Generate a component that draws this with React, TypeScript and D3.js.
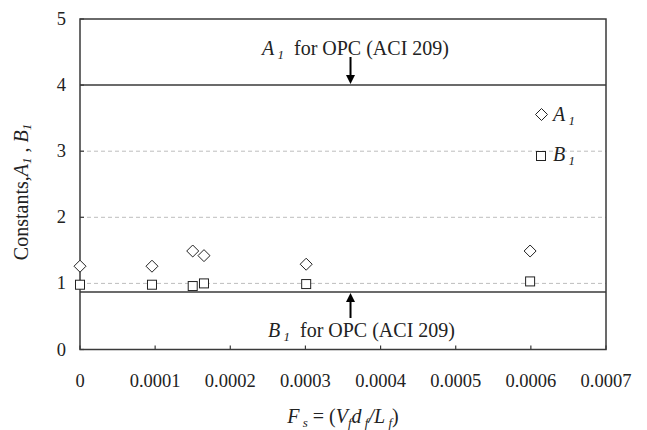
import React from "react";
import * as d3 from "d3";

const xA1: number[] = [0, 0.0000958, 0.00015, 0.000165, 0.000301, 0.000599];
const yA1: number[] = [1.26, 1.26, 1.49, 1.42, 1.29, 1.49];
const xB1: number[] = [0, 0.0000958, 0.00015, 0.000165, 0.000301, 0.000599];
const yB1: number[] = [0.98, 0.98, 0.96, 1.0, 0.99, 1.03];
const xTicks: number[] = [0, 0.0001, 0.0002, 0.0003, 0.0004, 0.0005, 0.0006, 0.0007];
const xTickLabels: string[] = ["0", "0.0001", "0.0002", "0.0003", "0.0004", "0.0005", "0.0006", "0.0007"];
const yTicks: number[] = [0, 1, 2, 3, 4, 5];
const gridValues: number[] = [1, 2, 3];
const A1_OPC = 4;
const B1_OPC = 0.87;
const annotX = 0.00036;

const W = 647, H = 430;
const M = { left: 80, right: 41, top: 19, bottom: 80.5 };
const FONT = "'Liberation Serif', 'Times New Roman', serif";

export default function App() {
  const x = d3.scaleLinear().domain([0, 0.0007]).range([M.left, W - M.right]);
  const y = d3.scaleLinear().domain([0, 5]).range([H - M.bottom, M.top]);
  const axisColor = "#3a3a3a";
  const diamond = (cx: number, cy: number, r = 6) =>
    `M${cx},${cy - r}L${cx + r},${cy}L${cx},${cy + r}L${cx - r},${cy}Z`;
  const sq = 9;
  const ax = x(annotX);
  return (
    <svg width={W} height={H} style={{ position: "absolute", left: 0, top: 0, background: "#fff" }}>
      {gridValues.map((v) => (
        <line key={v} x1={x(0)} x2={x(0.0007)} y1={y(v)} y2={y(v)} stroke="#bdbdbd" strokeWidth={1} strokeDasharray="4,3" />
      ))}
      {/* OPC reference lines */}
      <line x1={x(0)} x2={x(0.0007)} y1={y(A1_OPC)} y2={y(A1_OPC)} stroke={axisColor} strokeWidth={1.5} />
      <line x1={x(0)} x2={x(0.0007)} y1={y(B1_OPC)} y2={y(B1_OPC)} stroke={axisColor} strokeWidth={1.5} />
      {/* frame */}
      <rect x={x(0)} y={y(5)} width={x(0.0007) - x(0)} height={y(0) - y(5)} fill="none" stroke={axisColor} strokeWidth={1.5} />
      {/* ticks */}
      {xTicks.map((t) => (
        <line key={t} x1={x(t)} x2={x(t)} y1={y(0)} y2={y(0) - 4} stroke={axisColor} strokeWidth={1.2} />
      ))}
      {yTicks.map((t) => (
        <line key={t} x1={x(0)} x2={x(0) + 4} y1={y(t)} y2={y(t)} stroke={axisColor} strokeWidth={1.2} />
      ))}
      {/* tick labels */}
      {xTicks.map((t, i) => (
        <text key={t} x={x(t)} y={y(0) + 37} textAnchor="middle" fontFamily={FONT} fontSize={18.5} fill="#222">
          {xTickLabels[i]}
        </text>
      ))}
      {yTicks.map((t) => (
        <text key={t} x={x(0) - 14} y={y(t) + 6} textAnchor="end" fontFamily={FONT} fontSize={18.5} fill="#222">
          {t}
        </text>
      ))}
      {/* axis titles */}
      <text x={(x(0) + x(0.0007)) / 2} y={423} textAnchor="middle" fontFamily={FONT} fontSize={20} fill="#222" xmlSpace="preserve">
        <tspan fontStyle="italic">F</tspan>
        <tspan fontStyle="italic" fontSize={13} dy={4}> s</tspan>
        <tspan dy={-4}> = (</tspan>
        <tspan fontStyle="italic">V</tspan>
        <tspan fontStyle="italic" fontSize={13} dy={4}>f</tspan>
        <tspan fontStyle="italic" dy={-4}>d</tspan>
        <tspan fontStyle="italic" fontSize={13} dy={4}> f</tspan>
        <tspan fontStyle="italic" dy={-4}>/L</tspan>
        <tspan fontStyle="italic" fontSize={13} dy={4}> f</tspan>
        <tspan dy={-4}>)</tspan>
      </text>
      <text transform={`translate(28,192) rotate(-90)`} textAnchor="middle" fontFamily={FONT} fontSize={20} fill="#222">
        <tspan>Constants,</tspan>
        <tspan fontStyle="italic">A</tspan>
        <tspan fontStyle="italic" fontSize={13} dy={3}>1</tspan>
        <tspan dy={-3}> , </tspan>
        <tspan fontStyle="italic">B</tspan>
        <tspan fontStyle="italic" fontSize={13} dy={3}>1</tspan>
      </text>
      {/* annotations */}
      <text x={262} y={55} fontFamily={FONT} fontSize={20} fill="#222" xmlSpace="preserve">
        <tspan fontStyle="italic">A</tspan>
        <tspan fontStyle="italic" fontSize={13} dy={4}> 1</tspan>
        <tspan dy={-4}>  for OPC (ACI 209)</tspan>
      </text>
      <line x1={ax} x2={ax} y1={57} y2={y(A1_OPC) - 8} stroke="#000" strokeWidth={2} />
      <path d={`M${ax - 4.5},${y(A1_OPC) - 10}L${ax + 4.5},${y(A1_OPC) - 10}L${ax},${y(A1_OPC) - 1}Z`} fill="#000" />
      <line x1={ax} x2={ax} y1={y(B1_OPC) + 8} y2={y(B1_OPC) + 26} stroke="#000" strokeWidth={2} />
      <path d={`M${ax - 4.5},${y(B1_OPC) + 10}L${ax + 4.5},${y(B1_OPC) + 10}L${ax},${y(B1_OPC) + 1}Z`} fill="#000" />
      <text x={268} y={337} fontFamily={FONT} fontSize={20} fill="#222" xmlSpace="preserve">
        <tspan fontStyle="italic">B</tspan>
        <tspan fontStyle="italic" fontSize={13} dy={4}> 1</tspan>
        <tspan dy={-4}>  for OPC (ACI 209)</tspan>
      </text>
      {/* data */}
      {xA1.map((v, i) => (
        <path key={"a" + i} d={diamond(x(v), y(yA1[i]))} fill="#fff" stroke="#222" strokeWidth={1} />
      ))}
      {xB1.map((v, i) => (
        <rect key={"b" + i} x={x(v) - sq / 2} y={y(yB1[i]) - sq / 2} width={sq} height={sq} fill="#fff" stroke="#222" strokeWidth={1} />
      ))}
      {/* legend */}
      <path d={diamond(541.5, 114.5)} fill="#fff" stroke="#222" strokeWidth={1} />
      <text x={553} y={121} fontFamily={FONT} fontSize={20} fill="#222" xmlSpace="preserve">
        <tspan fontStyle="italic">A</tspan>
        <tspan fontStyle="italic" fontSize={13} dy={4}> 1</tspan>
      </text>
      <rect x={541 - sq / 2} y={156 - sq / 2} width={sq} height={sq} fill="#fff" stroke="#222" strokeWidth={1} />
      <text x={553} y={161} fontFamily={FONT} fontSize={20} fill="#222" xmlSpace="preserve">
        <tspan fontStyle="italic">B</tspan>
        <tspan fontStyle="italic" fontSize={13} dy={4}> 1</tspan>
      </text>
    </svg>
  );
}
